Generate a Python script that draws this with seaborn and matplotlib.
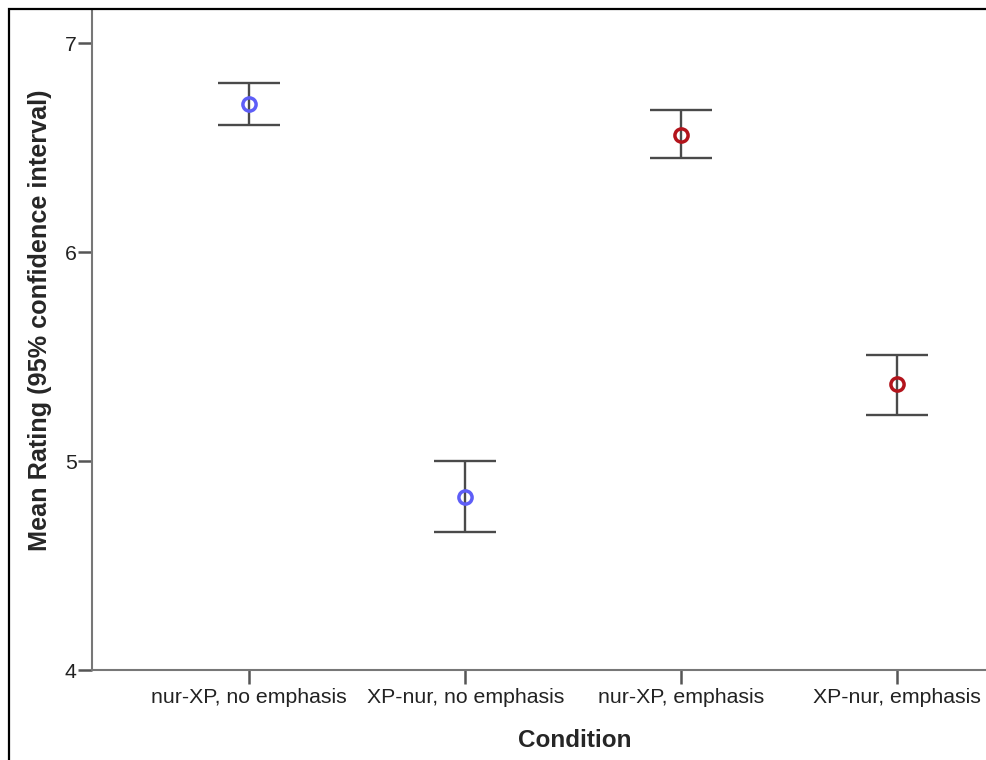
import numpy as np
import pandas as pd
import matplotlib
matplotlib.use("Agg")
import matplotlib.pyplot as plt
import seaborn as sns
from matplotlib.patches import Rectangle

conditions = ["nur-XP, no emphasis", "XP-nur, no emphasis",
              "nur-XP, emphasis", "XP-nur, emphasis"]
groups = ["no emphasis", "no emphasis", "emphasis", "emphasis"]
means = [6.71, 4.83, 6.56, 5.37]
ci_low = [6.61, 4.66, 6.45, 5.22]
ci_high = [6.81, 5.00, 6.68, 5.51]

df = pd.DataFrame({"condition": conditions, "group": groups, "mean": means,
                   "lo": ci_low, "hi": ci_high})

sns.set_style("white")
plt.rcParams['font.family'] = ['Liberation Sans', 'DejaVu Sans']

fig = plt.figure(figsize=(9.86, 7.6), dpi=100)
ax = fig.add_axes([92 / 986, 90 / 760, 1 - 92 / 986, 660 / 760])

# доверительные интервалы
xpos = np.arange(len(conditions))
ax.errorbar(xpos, df["mean"],
            yerr=[df["mean"] - df["lo"], df["hi"] - df["mean"]],
            fmt="none", ecolor="#4a4a4a", elinewidth=1.7,
            capsize=22, capthick=1.7, zorder=2)

# средние значения — полые кружки
sns.pointplot(data=df, x="condition", y="mean", hue="group",
              order=conditions, hue_order=["no emphasis", "emphasis"],
              palette={"no emphasis": "#5e5ef7", "emphasis": "#b3141c"},
              errorbar=None, linestyle="none", markers="o",
              markersize=9.5, markeredgewidth=2.5, markerfacecolor="none",
              legend=False, ax=ax, zorder=3)

ax.set_xlim(-0.727, 3.41)
ax.set_ylim(4, 7.16)
ax.set_yticks([4, 5, 6, 7])
ax.set_yticklabels(["4", "5", "6", "7"])

ax.set_xlabel("Condition", fontsize=17.5, fontweight="bold")
ax.set_ylabel("Mean Rating (95% confidence interval)", fontsize=18.2,
              fontweight="bold")
ax.xaxis.set_label_coords(0.540, -0.089)
ax.yaxis.set_label_coords(-0.045, 0.530)

ax.tick_params(axis="both", direction="out", length=10, width=1.8,
               color="#555555", labelsize=15.3, labelcolor="#222222",
               bottom=True, left=True)
ax.tick_params(axis="y", pad=1)
ax.tick_params(axis="x", pad=3)

for side in ["top", "right"]:
    ax.spines[side].set_visible(False)
for side in ["left", "bottom"]:
    ax.spines[side].set_color("#777777")
    ax.spines[side].set_linewidth(1.5)
ax.grid(False)

# рамка вокруг рисунка (обрезана справа и снизу)
fig.patches.append(Rectangle((9 / 986, -0.05), 1.1, 1.05 - 9 / 760,
                             transform=fig.transFigure, fill=False,
                             edgecolor="black", linewidth=1.6, zorder=10))

fig.savefig("out.png", dpi=100)
